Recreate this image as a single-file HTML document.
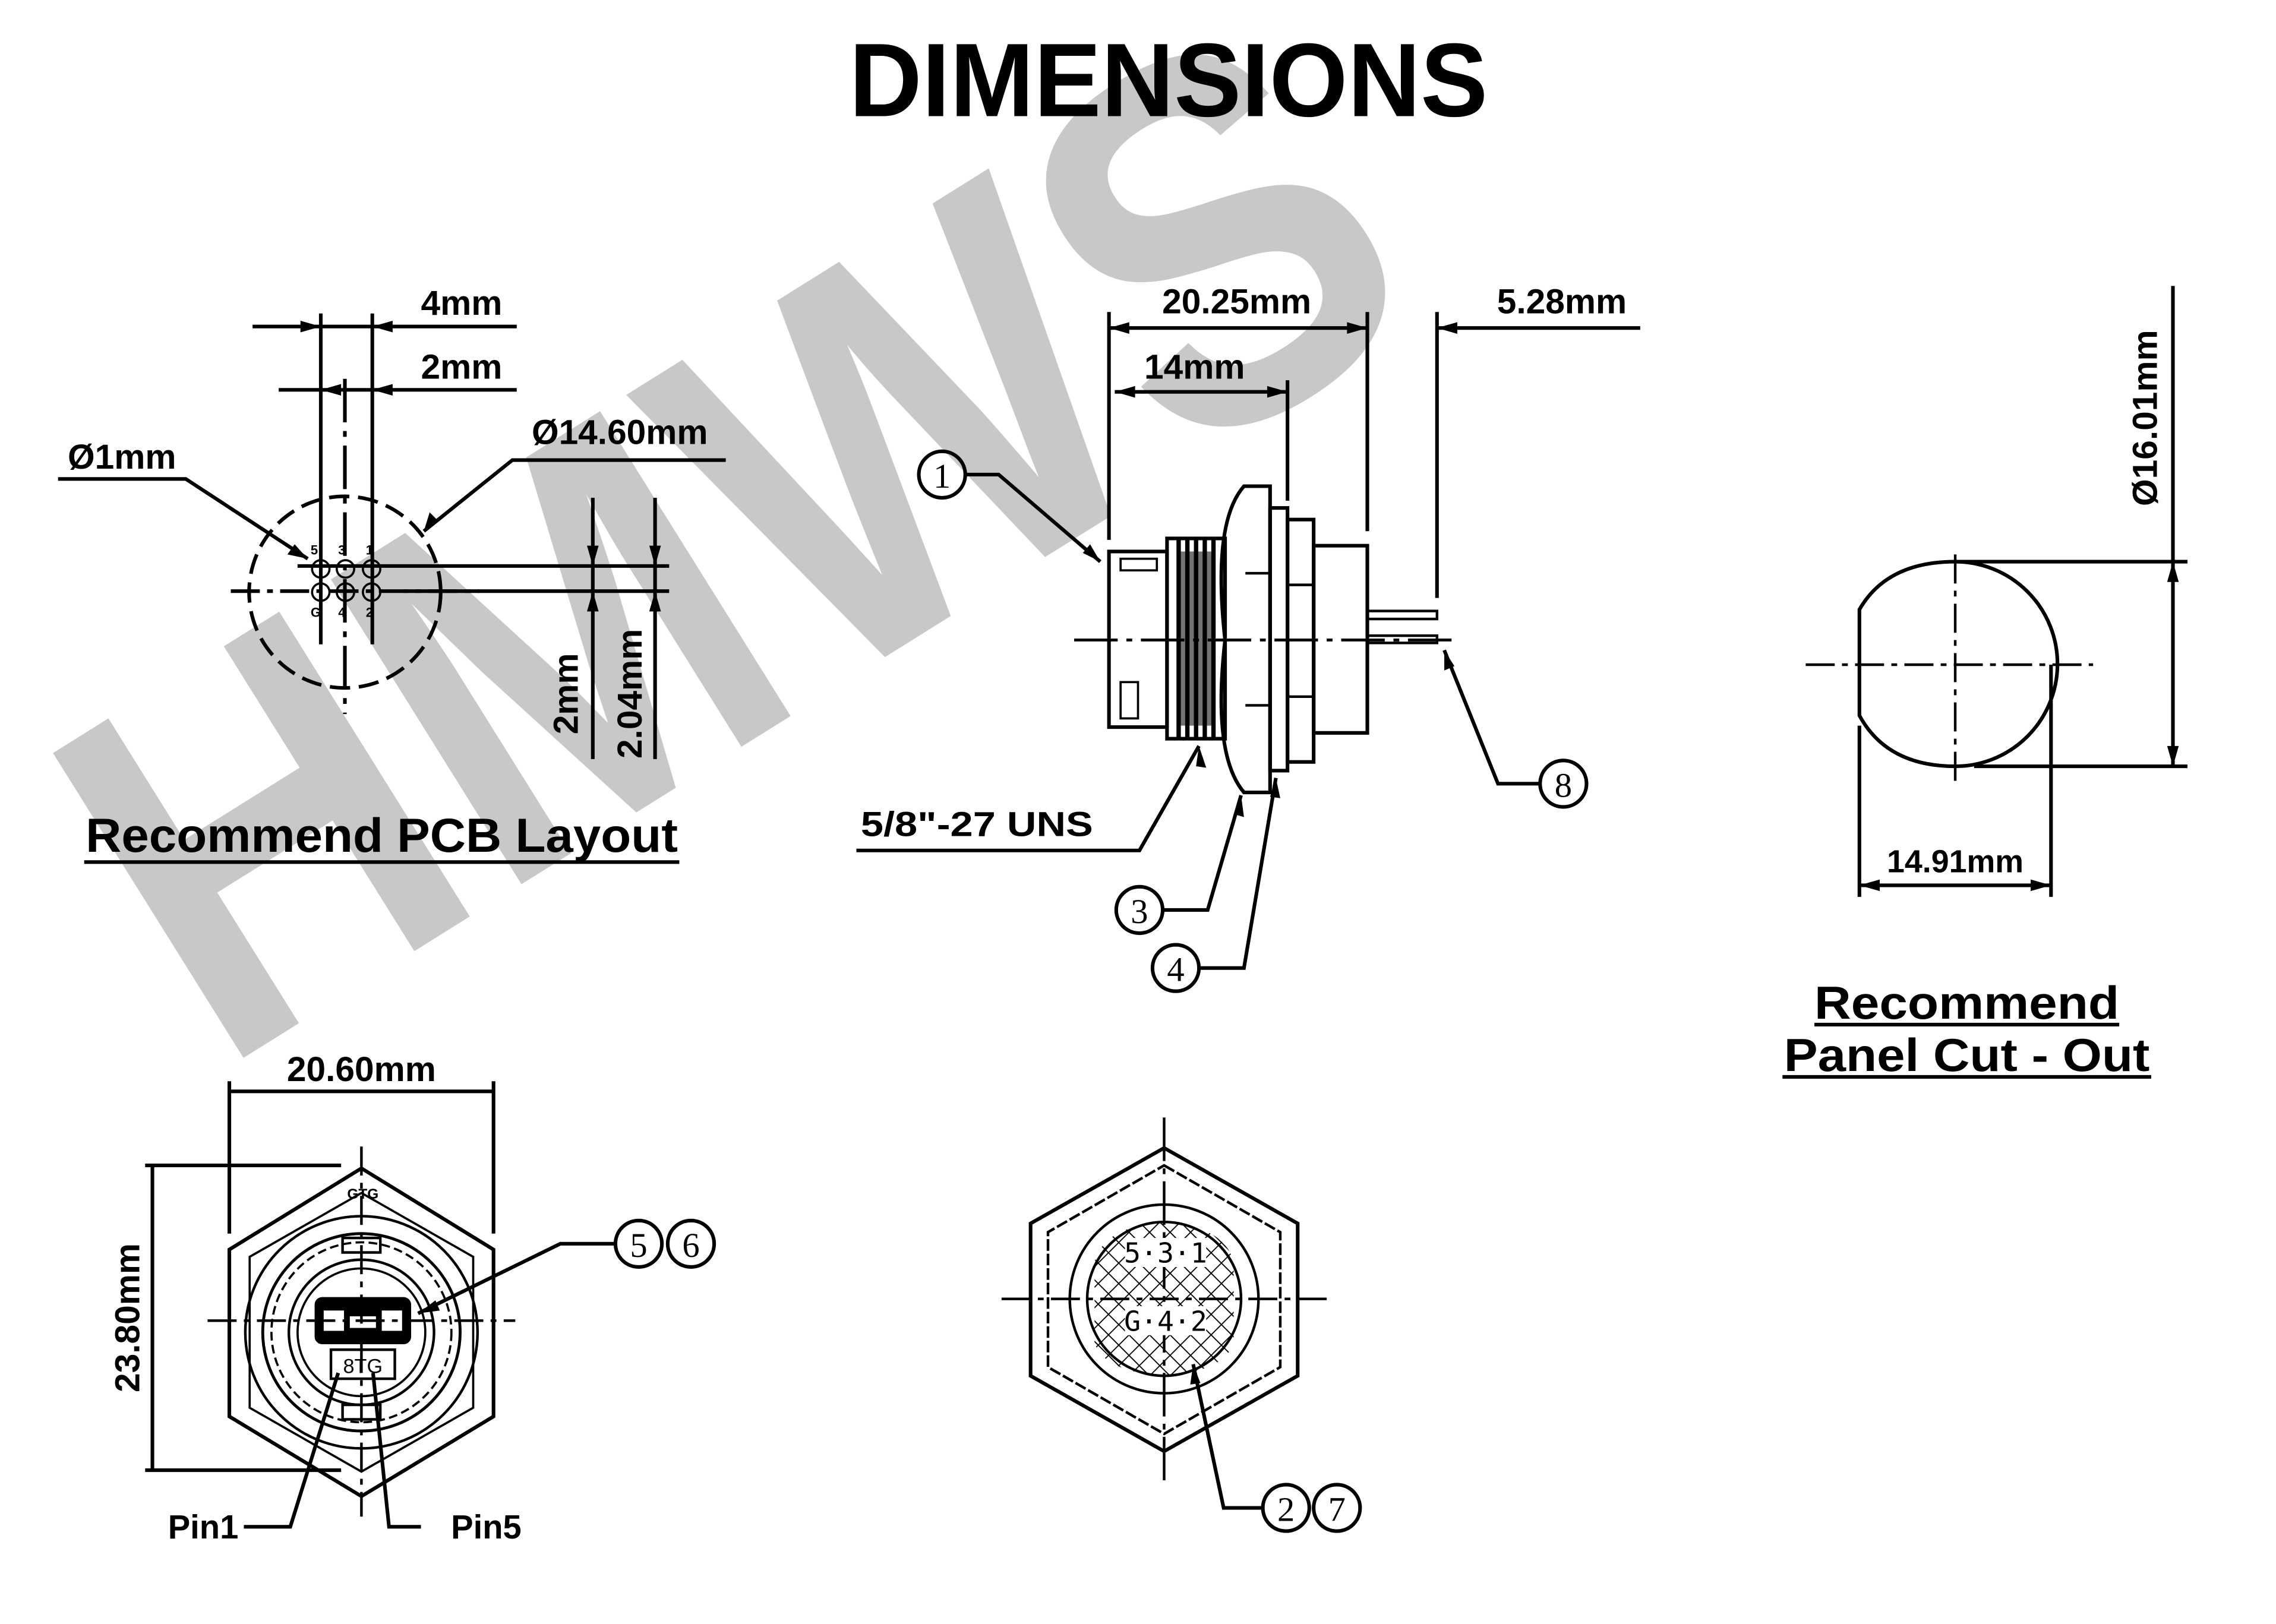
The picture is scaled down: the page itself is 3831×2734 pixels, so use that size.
<!DOCTYPE html>
<html><head><meta charset="utf-8"><style>
html,body{margin:0;padding:0;background:#fff;}
svg{display:block;}
text{font-family:"Liberation Sans",sans-serif;font-weight:bold;fill:#000;}
.c{font-family:"Liberation Serif",serif;font-weight:normal;}
</style></head><body>
<svg width="3831" height="2734" viewBox="0 0 1568 1119" xmlns="http://www.w3.org/2000/svg">
<rect width="1568" height="1119" fill="#fff"/>
<!-- watermark -->
<text x="0" y="0" transform="translate(150,740) rotate(-32)" font-size="360" textLength="990" lengthAdjust="spacingAndGlyphs" style="fill:#c8c8c8">HMWS</text>

<!-- title -->
<text x="805" y="80" font-size="72" text-anchor="middle" textLength="440" lengthAdjust="spacingAndGlyphs">DIMENSIONS</text>

<g stroke="#000" fill="none" stroke-width="2.5">
<!-- PCB layout -->
<line x1="221" y1="216" x2="221" y2="444"/>
<line x1="256.5" y1="216" x2="256.5" y2="444"/>
<line x1="237.6" y1="261" x2="237.6" y2="492" stroke-dasharray="30 6 4 6"/>
<line x1="174" y1="225" x2="356" y2="225"/>
<line x1="192" y1="268.6" x2="356" y2="268.6"/>
<circle cx="237.6" cy="408" r="66" stroke-dasharray="14 6"/>
<line x1="205" y1="390" x2="461" y2="390"/>
<line x1="278" y1="407.3" x2="461" y2="407.3"/>
<line x1="159" y1="407.3" x2="330" y2="407.3" stroke-dasharray="20 5 4 5"/>
<line x1="408.4" y1="343" x2="408.4" y2="523"/>
<line x1="451.3" y1="343" x2="451.3" y2="523"/>
<circle cx="221" cy="392" r="6" stroke-width="1.5"/><circle cx="238" cy="392" r="6" stroke-width="1.5"/><circle cx="256" cy="392" r="6" stroke-width="1.5"/>
<circle cx="221" cy="408" r="6" stroke-width="1.5"/><circle cx="238" cy="408" r="6" stroke-width="1.5"/><circle cx="256" cy="408" r="6" stroke-width="1.5"/>
<polyline points="40,330 128,330 212,385"/>
<polyline points="500,317 353,317 292,366"/>
<line x1="58" y1="594" x2="468" y2="594"/>

<!-- side view -->
<line x1="740" y1="441" x2="1000" y2="441" stroke-dasharray="30 6 4 6" stroke-width="2"/>
<rect x="764" y="380" width="40" height="121"/>
<rect x="772" y="385" width="25" height="8" stroke-width="1.5"/>
<rect x="772" y="470" width="12" height="25" stroke-width="1.5"/>
<rect x="804" y="371" width="40" height="138"/>
<g stroke-width="3">
<line x1="812" y1="372" x2="812" y2="508"/><line x1="818" y1="372" x2="818" y2="508"/>
<line x1="824" y1="372" x2="824" y2="508"/><line x1="830" y1="372" x2="830" y2="508"/>
<line x1="836" y1="372" x2="836" y2="508"/>
</g>
<rect x="811" y="380" width="26" height="120" fill="#000" opacity="0.55" stroke="none"/>
<path d="M857,335 L875,335 L875,546 L857,546 Q835,520 844,441 Q835,360 857,335 Z"/>
<line x1="858" y1="395" x2="875" y2="395" stroke-width="1.8"/>
<line x1="858" y1="486" x2="875" y2="486" stroke-width="1.8"/>
<rect x="875" y="350" width="12" height="181"/>
<rect x="887" y="358" width="18" height="167"/>
<line x1="887" y1="403" x2="905" y2="403" stroke-width="1.8"/>
<line x1="887" y1="480" x2="905" y2="480" stroke-width="1.8"/>
<rect x="905" y="376" width="37" height="129"/>
<rect x="942" y="421" width="48" height="5.5" stroke-width="1.8"/>
<rect x="942" y="438" width="48" height="5" stroke-width="1.8"/>
<!-- dims side -->
<line x1="764" y1="215" x2="764" y2="372"/>
<line x1="942" y1="215" x2="942" y2="366"/>
<line x1="990" y1="215" x2="990" y2="412"/>
<line x1="887" y1="262" x2="887" y2="345"/>
<line x1="764" y1="226" x2="942" y2="226"/>
<line x1="990" y1="226" x2="1130" y2="226"/>
<line x1="768" y1="270" x2="887" y2="270"/>
<circle cx="649" cy="327" r="16"/>
<polyline points="665,327 688,327 758,387"/>
<circle cx="1077" cy="540" r="16"/>
<polyline points="1061,540 1032,540 995,448"/>
<polyline points="590,586 785,586 826,514"/>
<circle cx="785" cy="627" r="16"/>
<polyline points="801,627 832,627 855,548"/>
<circle cx="810" cy="667" r="16"/>
<polyline points="826,667 857,667 879,536"/>

<!-- panel cut-out -->
<path d="M1281,420 Q1300,387 1347,387 A70,70 0 0 1 1347,528 Q1300,528 1281,493 Z"/>
<line x1="1244" y1="458" x2="1442" y2="458" stroke-dasharray="20 5 4 5" stroke-width="1.8"/>
<line x1="1347" y1="382" x2="1347" y2="542" stroke-dasharray="20 5 4 5" stroke-width="1.8"/>
<line x1="1347" y1="387" x2="1507" y2="387"/>
<line x1="1360" y1="528" x2="1507" y2="528"/>
<line x1="1497" y1="197" x2="1497" y2="528"/>
<line x1="1281" y1="500" x2="1281" y2="618"/>
<line x1="1413" y1="458" x2="1413" y2="618"/>
<line x1="1281" y1="610" x2="1413" y2="610"/>
<line x1="1228" y1="742" x2="1482" y2="742"/>
<line x1="1250" y1="706" x2="1460" y2="706"/>

<!-- bottom left -->
<polygon points="249,805 340,861 340,976 249,1031 158,976 158,861"/>
<polygon points="249,822 326,866 326,970 249,1014 172,970 172,866" stroke-width="1.5"/>
<circle cx="249" cy="918" r="80" stroke-width="1.8"/>
<circle cx="249" cy="918" r="68" stroke-width="2"/>
<circle cx="249" cy="918" r="62" stroke-width="1.5" stroke-dasharray="6 3"/>
<circle cx="249" cy="918" r="50" stroke-width="1.8"/>
<circle cx="249" cy="918" r="44" stroke-width="1.5"/>
<rect x="218" y="895" width="64" height="30" rx="4" fill="#000"/>
<rect x="223" y="903" width="14" height="14" fill="#fff" stroke="none"/>
<rect x="263" y="903" width="14" height="14" fill="#fff" stroke="none"/>
<rect x="241" y="907" width="18" height="8" fill="#fff" stroke="none"/>
<rect x="228" y="930" width="44" height="20" stroke-width="1.8"/>
<rect x="236" y="853" width="26" height="10" stroke-width="1.8"/>
<rect x="236" y="968" width="26" height="10" stroke-width="1.8"/>
<line x1="143" y1="910" x2="355" y2="910" stroke-dasharray="20 5 4 5" stroke-width="1.8"/>
<line x1="249" y1="790" x2="249" y2="1045" stroke-dasharray="20 5 4 5" stroke-width="1.8"/>
<line x1="158" y1="745" x2="158" y2="850"/>
<line x1="340" y1="745" x2="340" y2="850"/>
<line x1="158" y1="752" x2="340" y2="752"/>
<line x1="100" y1="803" x2="235" y2="803"/>
<line x1="100" y1="1013" x2="235" y2="1013"/>
<line x1="105" y1="803" x2="105" y2="1013"/>
<circle cx="440" cy="857" r="16"/><circle cx="476" cy="857" r="16"/>
<polyline points="424,857 386,857 288,905"/>
<polyline points="168,1052 200,1052 233,946"/>
<polyline points="290,1052 268,1052 257,946"/>

<!-- bottom middle -->
<polygon points="802,791 894,843 894,948 802,1000 710,948 710,843"/>
<polygon points="802,803 882,849 882,942 802,988 722,942 722,849" stroke-width="1.8" stroke-dasharray="8 2"/>
<circle cx="802" cy="895" r="65" stroke-width="1.8"/>
<circle cx="802" cy="895" r="53" stroke-width="1.8"/>
<line x1="690" y1="895" x2="915" y2="895" stroke-dasharray="20 5 4 5" stroke-width="1.8"/>
<line x1="802" y1="770" x2="802" y2="1025" stroke-dasharray="30 5 4 5" stroke-width="1.8"/>
<circle cx="886" cy="1039" r="16"/><circle cx="921" cy="1039" r="16"/>
<polyline points="870,1039 843,1039 822,940"/>
</g>

<!-- hatch for bottom middle -->
<defs>
<pattern id="h" width="10" height="10" patternUnits="userSpaceOnUse" patternTransform="rotate(45)">
<path d="M0,0 L0,10 M0,0 L10,0" stroke="#000" stroke-width="1.5"/>
</pattern>
<clipPath id="cp"><path d="M754,870 Q760,845 802,842 Q844,845 850,870 L850,925 Q844,945 802,948 Q760,945 754,925 Z"/></clipPath>
</defs>
<rect x="750" y="840" width="104" height="110" fill="url(#h)" clip-path="url(#cp)"/>
<g fill="#fff">
<rect x="775" y="853" width="56" height="20"/>
<rect x="775" y="900" width="56" height="20"/>
</g>
<text x="803" y="870" font-size="19" text-anchor="middle" style="font-weight:normal;font-family:'DejaVu Sans Mono',monospace">5·3·1</text>
<text x="803" y="917" font-size="19" text-anchor="middle" style="font-weight:normal;font-family:'DejaVu Sans Mono',monospace">G·4·2</text>

<!-- arrowheads (small filled) -->
<g fill="#000">
<path d="M221,225 l-14,-4 v8z"/><path d="M256.5,225 l14,-4 v8z"/>
<path d="M221,268.6 l14,-4 v8z"/><path d="M256.5,268.6 l14,-4 v8z"/>
<path d="M408.4,390 l-4,-14 h8z"/><path d="M451.3,390 l-4,-14 h8z"/>
<path d="M408.4,407.3 l-4,14 h8z"/><path d="M451.3,407.3 l-4,14 h8z"/>
<path d="M212,385 l-14,-3 l5,-7z"/><path d="M292,366 l4,-13 l6,6z"/>
<path d="M764,226 l14,-4 v8z"/><path d="M942,226 l-14,-4 v8z"/><path d="M990,226 l14,-4 v8z"/>
<path d="M768,270 l14,-4 v8z"/><path d="M887,270 l-14,-4 v8z"/>
<path d="M758,387 l-12,-6 l5,-6z"/><path d="M995,448 l0,14 l7,-3z"/>
<path d="M826,514 l-2,14 l7,1z"/><path d="M855,548 l-5,13 l7,2z"/><path d="M879,536 l-4,13 l7,1z"/>
<path d="M1497,387 l-4,14 h8z"/><path d="M1497,528 l-4,-14 h8z"/>
<path d="M1281,610 l14,-4 v8z"/><path d="M1413,610 l-14,-4 v8z"/>
<path d="M288,905 l12,-9 l3,7z"/><path d="M822,940 l-2,14 l7,-1z"/>
</g>

<!-- text labels -->
<text x="318" y="217" font-size="24" text-anchor="middle">4mm</text>
<text x="318" y="261" font-size="24" text-anchor="middle">2mm</text>
<text x="84" y="323" font-size="24" text-anchor="middle">Ø1mm</text>
<text x="427" y="306" font-size="24" text-anchor="middle">Ø14.60mm</text>
<text transform="translate(398,478) rotate(-90)" font-size="24" text-anchor="middle">2mm</text>
<text transform="translate(442,478) rotate(-90)" font-size="24" text-anchor="middle">2.04mm</text>
<text x="263" y="587" font-size="33" text-anchor="middle" textLength="408" lengthAdjust="spacingAndGlyphs">Recommend PCB Layout</text>
<g font-size="9" style="font-weight:normal">
<text x="214" y="382">5</text><text x="233" y="382">3</text><text x="252" y="382">1</text>
<text x="214" y="425">G</text><text x="233" y="425">4</text><text x="252" y="425">2</text>
</g>

<text x="852" y="216" font-size="24" text-anchor="middle">20.25mm</text>
<text x="1076" y="216" font-size="24" text-anchor="middle">5.28mm</text>
<text x="823" y="261" font-size="24" text-anchor="middle">14mm</text>
<text x="673" y="576" font-size="24" text-anchor="middle" textLength="160" lengthAdjust="spacingAndGlyphs">5/8"-27 UNS</text>
<text class="c" x="649" y="336" font-size="24" text-anchor="middle">1</text>
<text class="c" x="1077" y="549" font-size="24" text-anchor="middle">8</text>
<text class="c" x="785" y="636" font-size="24" text-anchor="middle">3</text>
<text class="c" x="810" y="676" font-size="24" text-anchor="middle">4</text>

<text transform="translate(1486,288) rotate(-90)" font-size="24" text-anchor="middle">Ø16.01mm</text>
<text x="1347" y="601" font-size="22" text-anchor="middle">14.91mm</text>
<text x="1355" y="702" font-size="32" text-anchor="middle" textLength="210" lengthAdjust="spacingAndGlyphs">Recommend</text>
<text x="1355" y="738" font-size="32" text-anchor="middle" textLength="252" lengthAdjust="spacingAndGlyphs">Panel Cut - Out</text>

<text x="249" y="745" font-size="24" text-anchor="middle">20.60mm</text>
<text transform="translate(96,908) rotate(-90)" font-size="24" text-anchor="middle">23.80mm</text>
<text x="250" y="826" font-size="10" text-anchor="middle">GTG</text>
<text x="250" y="946" font-size="14" text-anchor="middle" style="font-weight:normal">8TG</text>
<text class="c" x="440" y="866" font-size="24" text-anchor="middle">5</text>
<text class="c" x="476" y="866" font-size="24" text-anchor="middle">6</text>
<text x="140" y="1060" font-size="23" text-anchor="middle">Pin1</text>
<text x="335" y="1060" font-size="23" text-anchor="middle">Pin5</text>
<text class="c" x="886" y="1048" font-size="24" text-anchor="middle">2</text>
<text class="c" x="921" y="1048" font-size="24" text-anchor="middle">7</text>
</svg>
</body></html>
